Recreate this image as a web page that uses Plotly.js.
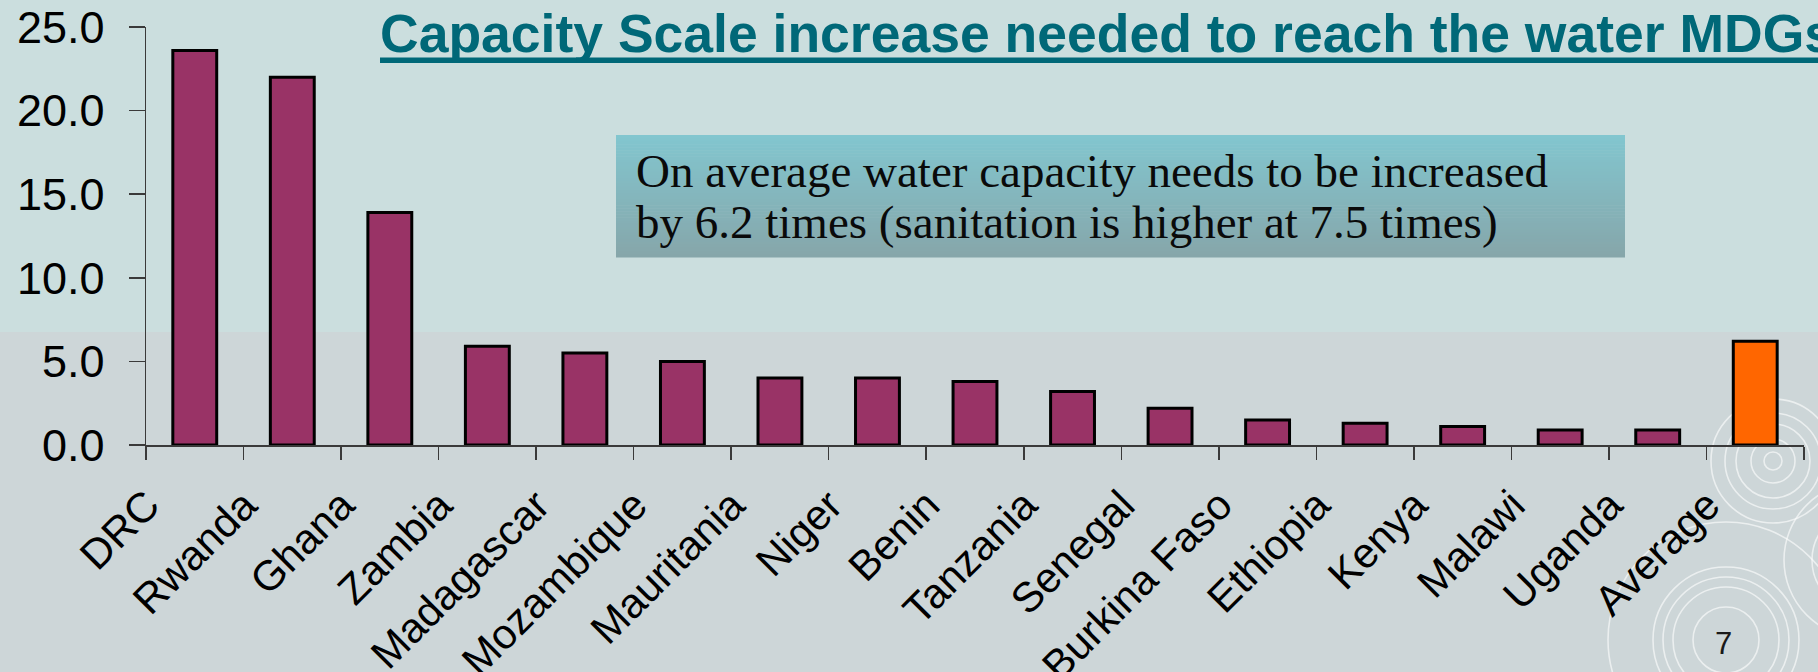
<!DOCTYPE html>
<html>
<head>
<meta charset="utf-8">
<script src="https://cdn.plot.ly/plotly-3.0.1.min.js"></script>
<style>
html,body{margin:0;padding:0;background:#CBDEDE;}
#chart{width:1818px;height:672px;}
</style>
</head>
<body>
<div id="chart"></div>
<script>
// ---- data ----
const categories = ['DRC','Rwanda','Ghana','Zambia','Madagascar','Mozambique','Mauritania','Niger','Benin','Tanzania','Senegal','Burkina Faso','Ethiopia','Kenya','Malawi','Uganda','Average'];
const capacityScale = [23.6,22.0,13.9,5.9,5.5,5.0,4.0,4.0,3.8,3.2,2.2,1.5,1.3,1.1,0.9,0.9,6.2];
const yTickValues = [0,5,10,15,20,25];
const titleText = 'Capacity Scale increase needed to reach the water MDGs';
const noteLines = ['On average water capacity needs to be increased','by 6.2 times (sanitation is higher at 7.5 times)'];
const pageNumber = '7';

// ---- layout geometry (pixels) ----
const W = 1818, H = 672, L = 146, R = 14, T = 27, B = 227;
const PW = W - L - R, PH = H - T - B;
const px = x => (x - L) / PW;
const py = y => (H - B - y) / PH;

const plum = '#993366', orange = '#FF6600', teal = '#006878';
const barColors = categories.map(c => c === 'Average' ? orange : plum);

const shapes = [];
// lower background band
shapes.push({type:'rect', xref:'paper', yref:'paper', x0:px(0), x1:px(W), y0:py(H), y1:py(332),
  fillcolor:'#CDD6D8', line:{width:0}, layer:'below'});
// title underline
shapes.push({type:'rect', xref:'paper', yref:'paper', x0:px(380), x1:px(W + 5), y0:py(63), y1:py(57.5),
  fillcolor:teal, line:{width:0}, layer:'above'});
// gradient note box (stacked bands)
const boxX0 = 616, boxX1 = 1625, boxY0 = 135, boxY1 = 257, nBands = 40;
const cTop = [130,198,207], cBot = [134,166,170];
for (let i = 0; i < nBands; i++) {
  const t = (i + 0.5) / nBands;
  const c = cTop.map((v, k) => Math.round(v + (cBot[k] - v) * t));
  const ya = boxY0 + (boxY1 - boxY0) * i / nBands;
  const yb = boxY0 + (boxY1 - boxY0) * (i + 1) / nBands;
  shapes.push({type:'rect', xref:'paper', yref:'paper', x0:px(boxX0), x1:px(boxX1), y0:py(yb + 0.5), y1:py(ya),
    fillcolor:`rgb(${c[0]},${c[1]},${c[2]})`, line:{width:0}, layer:'below'});
}
// decorative rings (bottom right)
const ringSets = [
  {cx:1773, cy:461, r:[9,22,37,48,62]},
  {cx:1726, cy:640, r:[33,53,63,73,118]},
  {cx:1862, cy:560, r:[50,78]}
];
ringSets.forEach(s => s.r.forEach(r => {
  shapes.push({type:'circle', xref:'paper', yref:'paper', xsizemode:'pixel', ysizemode:'pixel',
    xanchor:px(s.cx), yanchor:py(s.cy), x0:-r, x1:r, y0:-r, y1:r,
    line:{color:'rgba(255,255,255,0.6)', width:1.6}, layer:'below'});
}));

const serif = 'Liberation Serif, Times New Roman, serif';
const sans = 'Liberation Sans, Arial, sans-serif';
const annotations = [
  {text: noteLines[0], xref:'paper', yref:'paper', x:px(634), y:py(171), xanchor:'left', yanchor:'middle',
    showarrow:false, font:{family:serif, size:47, color:'#0a0a0a'}},
  {text: noteLines[1], xref:'paper', yref:'paper', x:px(634), y:py(222), xanchor:'left', yanchor:'middle',
    showarrow:false, font:{family:serif, size:47, color:'#0a0a0a'}},
  {text: pageNumber, xref:'paper', yref:'paper', x:px(1723), y:py(643), xanchor:'center', yanchor:'middle',
    showarrow:false, font:{family:sans, size:31, color:'#1a1a1a'}}
];

// rotated labels sit a little left of their bars, as in the reference
const labelShift = 0.49;
const axisColor = '#3a3a3a';
const nCat = categories.length;

const data = [
  {type:'bar', x:categories, y:capacityScale,
   marker:{color:barColors, line:{color:'#000000', width:3}}, hoverinfo:'x+y'},
  // empty trace that only switches on the label axis
  {type:'scatter', x:[], y:[], xaxis:'x2', yaxis:'y', mode:'markers', hoverinfo:'skip'}
];

const layout = {
  width:W, height:H,
  margin:{l:L, r:R, t:T, b:B, pad:0},
  paper_bgcolor:'#CBDEDE', plot_bgcolor:'rgba(0,0,0,0)',
  showlegend:false, bargap:0.55,
  title:{text:titleText, xref:'paper', x:px(380), xanchor:'left', yref:'container', y:1 - 33 / H, yanchor:'middle',
    font:{family:sans, size:53.5, color:teal, weight:700}},
  xaxis:{type:'category', range:[-0.5, nCat - 0.5], showline:true, linecolor:axisColor, linewidth:1.5,
    ticks:'outside', tickson:'boundaries', ticklen:13, tickwidth:1.5, tickcolor:axisColor,
    showticklabels:false, showgrid:false, zeroline:false, fixedrange:true},
  xaxis2:{overlaying:'x', anchor:'y', side:'bottom', range:[-0.5, nCat - 0.5],
    tickmode:'array', tickvals:categories.map((c, i) => i - labelShift), ticktext:categories, tickangle:-45,
    ticks:'', showline:false, showgrid:false, zeroline:false, fixedrange:true, ticklabelstandoff:26,
    tickfont:{family:sans, size:42, color:'#000000'}},
  yaxis:{range:[0, 25], tickmode:'array', tickvals:yTickValues, tickformat:'.1f', showline:true, linecolor:axisColor, linewidth:1.5,
    ticks:'outside', ticklen:16, tickwidth:1.5, tickcolor:axisColor, showgrid:false, zeroline:false, fixedrange:true,
    ticklabelstandoff:15, tickfont:{family:sans, size:45, color:'#000000'}},
  shapes:shapes, annotations:annotations
};

Plotly.newPlot('chart', data, layout, {displayModeBar:false, staticPlot:true});
</script>
</body>
</html>
